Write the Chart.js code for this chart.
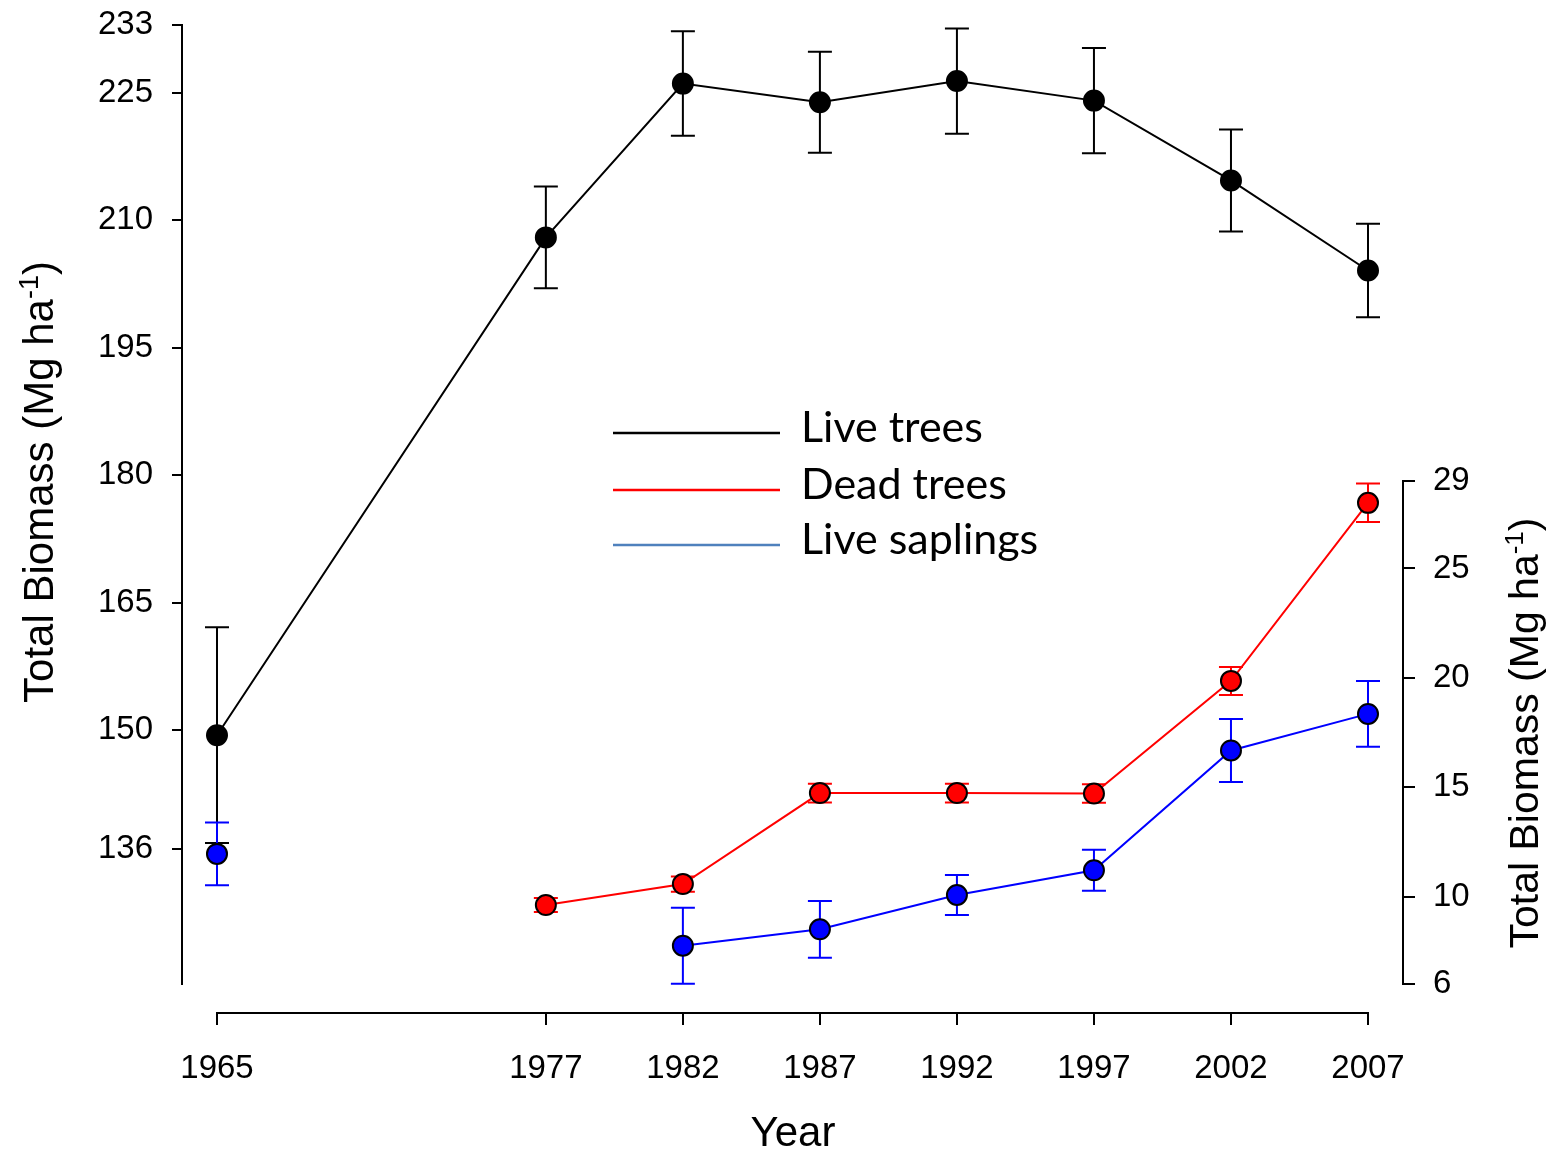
<!DOCTYPE html>
<html>
<head>
<meta charset="utf-8">
<script src="https://cdn.jsdelivr.net/npm/chart.js@4.4.1/dist/chart.umd.min.js"></script>
<style>
  html, body { margin: 0; padding: 0; background: #ffffff; }
  #wrap { width: 1552px; height: 1151px; position: relative; }
</style>
</head>
<body>
<div id="wrap"><canvas id="c" width="1552" height="1151"></canvas></div>
<script>
// ---------------- data ----------------
const years = [1965, 1977, 1982, 1987, 1992, 1997, 2002, 2007];

const liveTrees    = [149.4, 208.0, 226.1, 223.9, 226.4, 224.1, 214.7, 204.1];
const liveTreesErr = [12.7, 6.0, 6.15, 5.95, 6.2, 6.2, 6.0, 5.5];

const deadTrees    = [null, 9.61, 10.57, 14.73, 14.73, 14.71, 19.86, 28.0];
const deadTreesErr = [null, 0.32, 0.35, 0.43, 0.43, 0.42, 0.64, 0.88];

const saplings     = [11.95, null, 7.75, 8.5, 10.07, 11.2, 16.68, 18.35];
const saplingsErr  = [1.44, null, 1.74, 1.3, 0.91, 0.94, 1.44, 1.5];

const leftTicks  = [136, 150, 165, 180, 195, 210, 225, 233];
const rightTicks = [6, 10, 15, 20, 25, 29];

const seriesLabels = ['Live trees', 'Dead trees', 'Live saplings'];
const axisTitleY = 'Total Biomass (Mg ha';
const axisTitleSup = '-1';
const axisTitleEnd = ')';
const axisTitleX = 'Year';

// ---------------- helpers ----------------
function pts(vals) { return years.map((x, i) => ({ x: x, y: vals[i] })); }

const FONT = "'Liberation Sans', Arial, sans-serif";
const LEGEND_FONT = "Lato, 'Open Sans', sans-serif";

const errorBarPlugin = {
  id: 'errorBars',
  beforeDatasetsDraw(chart) {
    const ctx = chart.ctx;
    chart.data.datasets.forEach((ds) => {
      const errs = ds.errors;
      if (!errs) return;
      const xs = chart.scales.x;
      const ys = chart.scales[ds.yAxisID];
      ctx.save();
      ctx.strokeStyle = ds.errorColor;
      ctx.lineWidth = 2;
      ds.data.forEach((p, i) => {
        if (p.y === null || errs[i] === null) return;
        const px = xs.getPixelForValue(p.x);
        const yt = ys.getPixelForValue(p.y + errs[i]);
        const yb = ys.getPixelForValue(p.y - errs[i]);
        ctx.beginPath();
        ctx.moveTo(px, yt); ctx.lineTo(px, yb);
        ctx.moveTo(px - 12, yt); ctx.lineTo(px + 12, yt);
        ctx.moveTo(px - 12, yb); ctx.lineTo(px + 12, yb);
        ctx.stroke();
      });
      ctx.restore();
    });
  }
};

const decorPlugin = {
  id: 'decor',
  beforeDatasetsDraw(chart) {
    const ctx = chart.ctx;
    const xs = chart.scales.x, yl = chart.scales.y, yr = chart.scales.y1;
    const a = chart.chartArea;
    ctx.save();
    ctx.strokeStyle = '#000';
    ctx.lineWidth = 2;
    ctx.beginPath();
    // left axis line
    ctx.moveTo(a.left, yl.getPixelForValue(leftTicks[leftTicks.length - 1]) - 1);
    ctx.lineTo(a.left, yl.getPixelForValue(120));
    // right axis line
    ctx.moveTo(a.right, yr.getPixelForValue(rightTicks[rightTicks.length - 1]) - 1);
    ctx.lineTo(a.right, yr.getPixelForValue(rightTicks[0]) + 1);
    // bottom axis line
    ctx.moveTo(xs.getPixelForValue(years[0]) - 1, a.bottom);
    ctx.lineTo(xs.getPixelForValue(years[years.length - 1]) + 1, a.bottom);
    ctx.stroke();
    ctx.restore();
  },
  afterDraw(chart) {
    const ctx = chart.ctx;

    function drawRotTitle(bx, cy, size) {
      ctx.save();
      ctx.translate(bx, cy);
      ctx.rotate(-Math.PI / 2);
      ctx.fillStyle = '#000';
      ctx.textBaseline = 'alphabetic';
      ctx.textAlign = 'left';
      const supSize = Math.round(size * 0.64);
      ctx.font = size + 'px ' + FONT;
      const w1 = ctx.measureText(axisTitleY).width;
      const w3 = ctx.measureText(axisTitleEnd).width;
      ctx.font = supSize + 'px ' + FONT;
      const w2 = ctx.measureText(axisTitleSup).width;
      let x = -(w1 + w2 + w3) / 2;
      ctx.font = size + 'px ' + FONT;
      ctx.fillText(axisTitleY, x, 0); x += w1;
      ctx.font = supSize + 'px ' + FONT;
      ctx.fillText(axisTitleSup, x, -size * 0.36); x += w2;
      ctx.font = size + 'px ' + FONT;
      ctx.fillText(axisTitleEnd, x, 0);
      ctx.restore();
    }
    drawRotTitle(53, 482, 42);
    drawRotTitle(1538, 733, 41);

    // x title
    ctx.save();
    ctx.fillStyle = '#000';
    ctx.font = '42px ' + FONT;
    ctx.textAlign = 'center';
    ctx.textBaseline = 'alphabetic';
    ctx.fillText(axisTitleX, 793, 1146);
    ctx.restore();

    // legend
    ctx.save();
    const rows = [433, 490, 545];
    chart.data.datasets.forEach((ds, i) => {
      ctx.strokeStyle = ds.legendColor;
      ctx.lineWidth = 2.5;
      ctx.beginPath();
      ctx.moveTo(613, rows[i]);
      ctx.lineTo(780, rows[i]);
      ctx.stroke();
      ctx.fillStyle = '#000';
      ctx.font = '43px ' + LEGEND_FONT;
      ctx.textAlign = 'left';
      ctx.textBaseline = 'alphabetic';
      ctx.fillText(ds.label, 801, rows[i] + 9);
    });
    ctx.restore();
  }
};

const tickFont = { family: FONT, size: 33 };

function noVPad(s, w) { s.width = w; s.paddingTop = 0; s.paddingBottom = 0; }

const chart = new Chart(document.getElementById('c'), {
  type: 'line',
  data: {
    datasets: [
      {
        label: seriesLabels[0], data: pts(liveTrees), errors: liveTreesErr,
        yAxisID: 'y', borderColor: '#000', borderWidth: 2,
        pointRadius: 10, pointHoverRadius: 10, pointBackgroundColor: '#000',
        pointBorderColor: '#000', pointBorderWidth: 2,
        errorColor: '#000', legendColor: '#000', order: 2, spanGaps: false, tension: 0
      },
      {
        label: seriesLabels[1], data: pts(deadTrees), errors: deadTreesErr,
        yAxisID: 'y1', borderColor: '#ff0000', borderWidth: 2,
        pointRadius: 10, pointHoverRadius: 10, pointBackgroundColor: '#ff0000',
        pointBorderColor: '#000', pointBorderWidth: 2,
        errorColor: '#ff0000', legendColor: '#ff0000', order: 1, spanGaps: false, tension: 0
      },
      {
        label: seriesLabels[2], data: pts(saplings), errors: saplingsErr,
        yAxisID: 'y1', borderColor: '#0000ff', borderWidth: 2,
        pointRadius: 10, pointHoverRadius: 10, pointBackgroundColor: '#0000ff',
        pointBorderColor: '#000', pointBorderWidth: 2,
        errorColor: '#0000ff', legendColor: '#4f81bd', order: 0, spanGaps: false, tension: 0
      }
    ]
  },
  options: {
    responsive: false,
    animation: false,
    devicePixelRatio: 1,
    layout: { padding: { top: 25, left: 0, right: 0, bottom: 0 } },
    plugins: { legend: { display: false }, tooltip: { enabled: false }, title: { display: false } },
    scales: {
      x: {
        type: 'linear',
        min: 1965 - 35 / 27.405,
        max: 2007 + 35 / 27.405,
        afterBuildTicks: s => { s.ticks = years.map(v => ({ value: v })); },
        afterFit: s => { s.height = 138; },
        ticks: { font: tickFont, color: '#000', padding: 24, autoSkip: false, maxRotation: 0, minRotation: 0,
                 callback: v => String(v) },
        grid: { display: true, drawOnChartArea: false, drawTicks: true, tickLength: 12, color: '#000', lineWidth: 2 },
        border: { display: false }
      },
      y: {
        type: 'linear', position: 'left',
        min: 233 - 988 / 8.495, max: 233,
        afterBuildTicks: s => { s.ticks = leftTicks.map(v => ({ value: v })); },
        afterFit: s => noVPad(s, 182),
        ticks: { font: tickFont, color: '#000', padding: 19, callback: v => String(v) },
        grid: { display: true, drawOnChartArea: false, drawTicks: true, tickLength: 10, color: '#000', lineWidth: 2 },
        border: { display: false }
      },
      y1: {
        type: 'linear', position: 'right',
        min: 6 - 29 / 21.87, max: 29 + 456 / 21.87,
        afterBuildTicks: s => { s.ticks = rightTicks.map(v => ({ value: v })); },
        afterFit: s => noVPad(s, 149),
        ticks: { font: tickFont, color: '#000', padding: 18, callback: v => String(v) },
        grid: { display: true, drawOnChartArea: false, drawTicks: true, tickLength: 12, color: '#000', lineWidth: 2 },
        border: { display: false }
      }
    }
  },
  plugins: [decorPlugin, errorBarPlugin]
});
</script>
</body>
</html>
